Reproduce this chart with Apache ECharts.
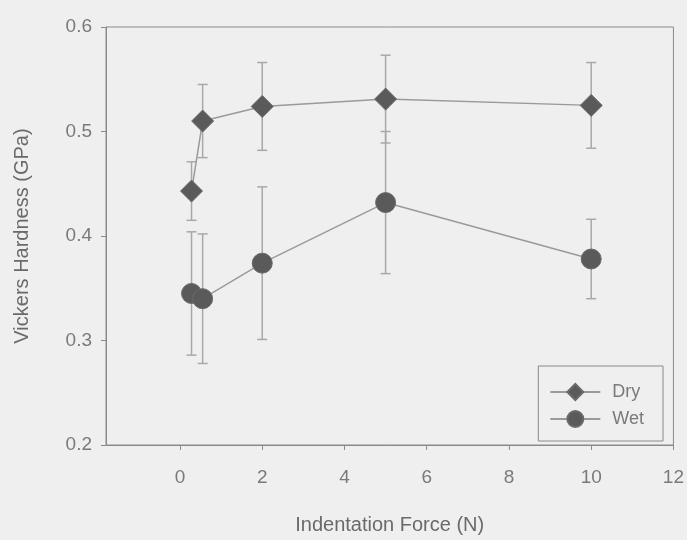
<!DOCTYPE html>
<html>
<head>
<meta charset="utf-8">
<script src="https://cdn.jsdelivr.net/npm/echarts@6/dist/echarts.min.js"></script>
<style>
html,body{margin:0;padding:0;background:#efefef;}
#chart{width:687px;height:540px;}
</style>
</head>
<body>
<div id="chart"></div>
<script>
// Data
const forces = [0.28, 0.55, 2, 5, 10];
const dryValues = [0.443, 0.510, 0.524, 0.531, 0.525];
const dryErrors = [0.028, 0.035, 0.042, 0.042, 0.041];
const wetValues = [0.345, 0.340, 0.374, 0.432, 0.378];
const wetErrors = [0.059, 0.062, 0.073, 0.068, 0.038];
const xTickLabels = [0, 2, 4, 6, 8, 10, 12];
const yTickLabels = [0.2, 0.3, 0.4, 0.5, 0.6];

const dryData = forces.map((x, i) => [x, dryValues[i]]);
const wetData = forces.map((x, i) => [x, wetValues[i]]);
const dryErr = forces.map((x, i) => [x, dryValues[i] - dryErrors[i], dryValues[i] + dryErrors[i]]);
const wetErr = forces.map((x, i) => [x, wetValues[i] - wetErrors[i], wetValues[i] + wetErrors[i]]);

function errRender(params, api) {
  const x = api.value(0);
  const lo = api.coord([x, api.value(1)]);
  const hi = api.coord([x, api.value(2)]);
  const hw = 5;
  const style = {stroke: '#a8a8a8', lineWidth: 1.5};
  return {
    type: 'group',
    children: [
      {type: 'line', shape: {x1: lo[0], y1: lo[1], x2: hi[0], y2: hi[1]}, style},
      {type: 'line', shape: {x1: lo[0]-hw, y1: lo[1], x2: lo[0]+hw, y2: lo[1]}, style},
      {type: 'line', shape: {x1: hi[0]-hw, y1: hi[1], x2: hi[0]+hw, y2: hi[1]}, style}
    ]
  };
}

const chart = echarts.init(document.getElementById('chart'));
const textColor = '#6a6a6a';
chart.setOption({
  backgroundColor: '#efefef',
  animation: false,
  textStyle: {fontFamily: 'Liberation Sans'},
  grid: {left: 106, right: 11, top: 27, bottom: 93, show: true, borderColor: '#8a8a8a', borderWidth: 1},
  xAxis: {
    type: 'value', min: -1.8, max: 12,
    name: 'Indentation Force (N)', nameLocation: 'middle', nameGap: 70,
    nameTextStyle: {fontSize: 20, color: textColor, fontFamily: 'Liberation Sans'},
    axisLine: {onZero: false, lineStyle: {color: '#8a8a8a'}},
    axisTick: {show: true, inside: false, length: 5, customValues: xTickLabels, lineStyle: {color: '#8a8a8a'}},
    axisLabel: {customValues: xTickLabels, fontSize: 19, color: '#7a7a7a', margin: 23},
    splitLine: {show: false}
  },
  yAxis: {
    type: 'value', min: 0.2, max: 0.6, interval: 0.1,
    name: 'Vickers Hardness (GPa)', nameLocation: 'middle', nameGap: 74,
    nameTextStyle: {fontSize: 20, color: textColor, fontFamily: 'Liberation Sans'},
    axisLine: {show: true, onZero: false, lineStyle: {color: '#8a8a8a'}},
    axisTick: {show: true, length: 5, lineStyle: {color: '#8a8a8a'}},
    axisLabel: {fontSize: 19, color: '#7a7a7a', margin: 14, formatter: v => v.toFixed(1)},
    splitLine: {show: false}
  },
  legend: {
    right: 24, bottom: 99,
    orient: 'vertical',
    itemWidth: 50, itemHeight: 20, itemGap: 9,
    padding: [17, 19, 13, 11],
    borderColor: '#8a8a8a', borderWidth: 1,
    backgroundColor: '#efefef',
    textStyle: {fontSize: 18, color: '#7a7a7a', padding: [0, 0, 0, 7]},
    data: ['Dry', 'Wet']
  },
  series: [
    {type: 'custom', name: 'dryErr', renderItem: errRender, data: dryErr, encode: {x: 0, y: [1, 2]}, z: 1, silent: true},
    {type: 'custom', name: 'wetErr', renderItem: errRender, data: wetErr, encode: {x: 0, y: [1, 2]}, z: 1, silent: true},
    {
      type: 'line', name: 'Dry', data: dryData, symbol: 'diamond', symbolSize: [22, 22],
      itemStyle: {color: '#5a5a5a', borderColor: '#6a6a6a', borderWidth: 1},
      lineStyle: {color: '#9a9a9a', width: 1.5}, z: 3
    },
    {
      type: 'line', name: 'Wet', data: wetData, symbol: 'circle', symbolSize: 20,
      itemStyle: {color: '#5a5a5a', borderColor: '#6a6a6a', borderWidth: 1},
      lineStyle: {color: '#9a9a9a', width: 1.5}, z: 3
    }
  ]
});
</script>
</body>
</html>
